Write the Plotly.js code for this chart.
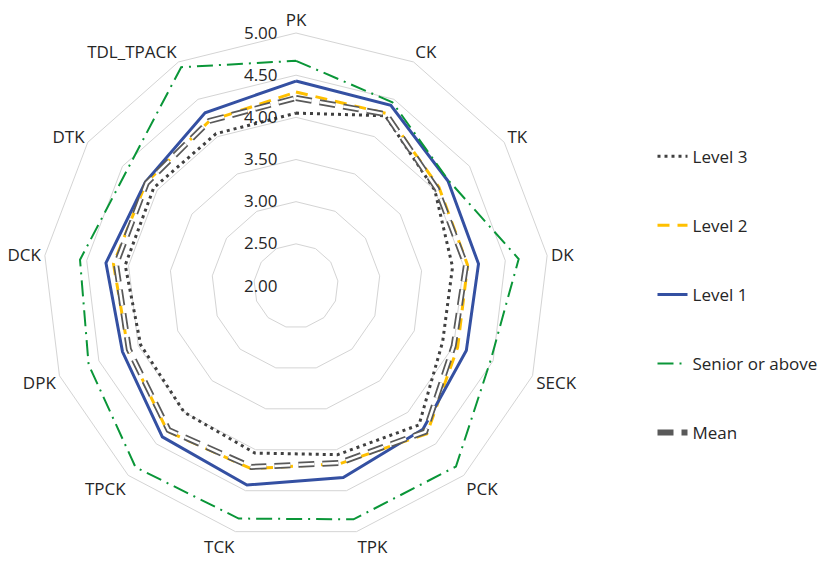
<!DOCTYPE html>
<html>
<head>
<meta charset="utf-8">
<script src="https://cdn.plot.ly/plotly-3.0.1.min.js"></script>
<style>
  html, body { margin: 0; padding: 0; background: #fff; }
  #chart { width: 827px; height: 566px; }
</style>
</head>
<body>
<div id="chart"></div>
<script>
const categories = ['PK', 'CK', 'TK', 'DK', 'SECK', 'PCK', 'TPK', 'TCK', 'TPCK', 'DPK', 'DCK', 'DTK', 'TDL_TPACK'];
const level3 = [4.05, 4.28, 4.00, 3.87, 3.86, 4.20, 4.06, 4.04, 4.00, 3.97, 4.04, 4.05, 4.04];
const level2 = [4.30, 4.31, 4.06, 4.05, 4.05, 4.34, 4.17, 4.23, 4.30, 4.13, 4.18, 4.16, 4.21];
const level1 = [4.43, 4.42, 4.19, 4.18, 4.16, 4.27, 4.34, 4.43, 4.39, 4.20, 4.27, 4.17, 4.32];
const senior = [4.67, 4.46, 4.20, 4.66, 4.47, 4.86, 4.85, 4.84, 4.87, 4.63, 4.58, 4.43, 4.93];
const mean   = [4.23, 4.30, 4.03, 4.03, 4.00, 4.31, 4.16, 4.21, 4.28, 4.12, 4.15, 4.15, 4.21];
const tickVals = [2, 2.5, 3, 3.5, 4, 4.5, 5];

// close the polygon
const loop = arr => arr.concat(arr[0]);
const theta = loop(categories);

const series = (name, r, color, width, dash, extra) => Object.assign({
  type: 'scatterpolar',
  mode: 'lines',
  name: name,
  r: loop(r),
  theta: theta,
  legendgroup: name,
  line: { color: color, width: width, dash: dash },
  hoverinfo: 'skip'
}, extra || {});

const data = [
  series('Level 3', level3, '#404040', 3, '3px,4px'),
  series('Level 2', level2, '#FFC000', 3, '12px,8px'),
  series('Level 1', level1, '#3450A2', 3, 'solid'),
  series('Senior or above', senior, '#0A9638', 2, '16px,6px,2px,6px'),
  series('Mean', mean, '#595959', 6, '16px,8px'),
  series('Mean', mean, '#ffffff', 2.5, '16px,8px', { showlegend: false })
];

const layout = {
  width: 827,
  height: 566,
  margin: { l: 0, r: 0, t: 0, b: 0 },
  paper_bgcolor: '#fff',
  font: { family: 'Open Sans, Noto Sans, sans-serif', color: '#262626' },
  showlegend: true,
  legend: {
    x: 0.789, xanchor: 'left',
    y: 0.755, yanchor: 'top',
    font: { size: 17, color: '#262626' },
    tracegroupgap: 44,
    traceorder: 'grouped'
  },
  polar: {
    domain: { x: [43 / 827, 549 / 827], y: [27 / 566, 533 / 566] },
    gridshape: 'linear',
    bgcolor: '#fff',
    angularaxis: {
      rotation: 90,
      direction: 'clockwise',
      showgrid: false,
      showline: true,
      linecolor: '#d4d4d4',
      linewidth: 1,
      ticks: '',
      tickfont: { size: 17, color: '#262626' }
    },
    radialaxis: {
      range: [2, 5],
      tickvals: tickVals,
      tickformat: '.2f',
      angle: 90,
      tickangle: 90,
      side: 'counterclockwise',
      showline: false,
      ticks: 'outside',
      ticklen: 12,
      tickcolor: 'rgba(0,0,0,0)',
      gridcolor: '#d4d4d4',
      gridwidth: 1,
      tickfont: { size: 17, color: '#262626' }
    }
  }
};

Plotly.newPlot('chart', data, layout, { displayModeBar: false, staticPlot: true });
</script>
</body>
</html>
